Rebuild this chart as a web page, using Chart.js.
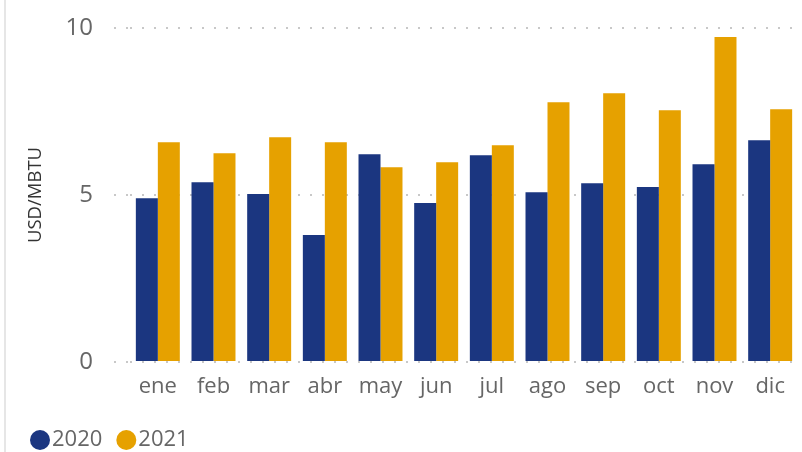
<!DOCTYPE html>
<html><head><meta charset="utf-8">
<script src="https://cdn.jsdelivr.net/npm/chart.js@4/dist/chart.umd.min.js"></script>
<style>
html,body{margin:0;padding:0;background:#fff;}
#wrap{position:relative;width:802px;height:452px;overflow:hidden;}
#edge{position:absolute;left:4px;top:0;width:2px;height:452px;background:#e6e6e6;}
canvas{position:absolute;left:0;top:0;}
</style></head><body>
<div id="wrap"><div id="edge"></div><canvas id="c" width="802" height="452"></canvas></div>
<script>
const categories = ['ene','feb','mar','abr','may','jun','jul','ago','sep','oct','nov','dic'];
const values2020 = [4.90,5.38,5.03,3.80,6.22,4.76,6.19,5.08,5.35,5.24,5.92,6.64];
const values2021 = [6.58,6.25,6.73,6.58,5.83,5.98,6.49,7.78,8.05,7.54,9.73,7.57];
const seriesNames = ['2020','2021'];
const yTicks = [0,5,10];
const yTitle = 'USD/MBTU';

const FONT = "'Open Sans', 'Noto Sans', sans-serif";
const gridColor = '#c8c8c8';

new Chart(document.getElementById('c'), {
  type: 'bar',
  data: {
    labels: categories,
    datasets: [
      { label: seriesNames[0], data: values2020, backgroundColor: '#1b3680', borderWidth: 0,
        categoryPercentage: 0.79, barPercentage: 1.0 },
      { label: seriesNames[1], data: values2021, backgroundColor: '#e6a100', borderWidth: 0,
        categoryPercentage: 0.79, barPercentage: 1.0 }
    ]
  },
  options: {
    responsive: false,
    animation: false,
    devicePixelRatio: 1,
    layout: { padding: { left: 16, right: 4, top: 28, bottom: 0 } },
    plugins: {
      tooltip: { enabled: false },
      legend: {
        position: 'bottom',
        align: 'start',
        maxHeight: 46,
        labels: {
          usePointStyle: true,
          pointStyle: 'circle',
          boxWidth: 2,
          boxHeight: 14.14,
          padding: 23,
          color: '#666666',
          font: { family: FONT, size: 22 }
        }
      }
    },
    scales: {
      x: {
        grid: { display: false, drawTicks: false },
        border: { display: false },
        ticks: { color: '#666666', font: { family: FONT, size: 22 }, padding: 12, maxRotation: 0 },
        afterFit: (s) => { s.height = 44; }
      },
      y: {
        min: 0, max: 10,
        afterBuildTicks: (s) => { s.ticks = yTicks.map(v => ({ value: v })); },
        grid: {
          color: gridColor, lineWidth: 2,
          drawTicks: true, tickLength: 16, tickWidth: 2, tickColor: gridColor,
          tickBorderDash: [2, 10]
        },
        border: { display: false, dash: [2, 10] },
        ticks: { color: '#666666', font: { family: FONT, size: 24 }, padding: 21 },
        title: { display: true, text: yTitle, color: '#333333',
                 font: { family: FONT, size: 18.5 }, padding: { top: 9, bottom: 0 } },
        afterFit: (s) => { s.width = 114; s.paddingTop = 0; s.paddingBottom = 0; }
      }
    }
  }
});
</script>
</body></html>
